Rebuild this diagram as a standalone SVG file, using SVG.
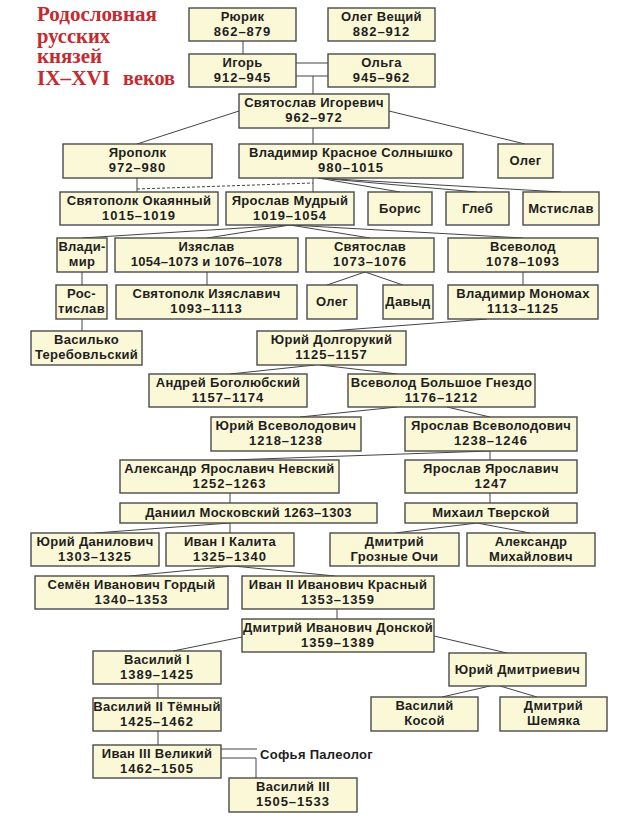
<svg xmlns="http://www.w3.org/2000/svg" width="640" height="819" viewBox="0 0 640 819">
<style>
.b{fill:#fbf8d8;stroke:#4a4a4a;stroke-width:1.4}
.t{font-family:"Liberation Sans",Arial,sans-serif;font-weight:bold;font-size:13px;letter-spacing:0.3px;fill:#1e1e1e;text-anchor:middle}
.d{letter-spacing:1px}
.c line{stroke:#444;stroke-width:1}
.ttl{font-family:"Liberation Serif","DejaVu Serif",serif;font-weight:bold;font-size:20px;fill:#c42a2f}
</style>
<rect width="640" height="819" fill="#fff"/>
<g id="title">
<text class="ttl" x="37" y="21" textLength="120" lengthAdjust="spacingAndGlyphs">Родословная</text>
<text class="ttl" x="37" y="43" textLength="73" lengthAdjust="spacingAndGlyphs">русских</text>
<text class="ttl" x="37" y="63" textLength="65" lengthAdjust="spacingAndGlyphs">князей</text>
<text class="ttl" x="37" y="85" textLength="73" lengthAdjust="spacingAndGlyphs">IX–XVI</text>
<text class="ttl" x="123" y="85" textLength="52" lengthAdjust="spacingAndGlyphs">веков</text>
</g>
<g id="connectors" class="c">
<line x1="243" y1="41" x2="243" y2="54"/>
<line x1="296" y1="63" x2="328" y2="63"/>
<line x1="296" y1="76" x2="328" y2="76"/>
<line x1="313" y1="76" x2="313" y2="94"/>
<line x1="239" y1="111" x2="137" y2="144"/>
<line x1="389" y1="111" x2="525" y2="144"/>
<line x1="313" y1="128" x2="313" y2="144"/>
<line x1="137" y1="178" x2="137" y2="192"/>
<line x1="137" y1="189" x2="313" y2="183" stroke-dasharray="3,2"/>
<line x1="313" y1="178" x2="313" y2="192"/>
<line x1="318" y1="178" x2="400" y2="192"/>
<line x1="318" y1="178" x2="477" y2="192"/>
<line x1="318" y1="178" x2="561" y2="192"/>
<line x1="290" y1="225" x2="82" y2="238"/>
<line x1="290" y1="225" x2="207" y2="238"/>
<line x1="290" y1="225" x2="370" y2="238"/>
<line x1="290" y1="225" x2="523" y2="238"/>
<line x1="82" y1="272" x2="82" y2="285"/>
<line x1="207" y1="272" x2="207" y2="285"/>
<line x1="365" y1="272" x2="327" y2="285"/>
<line x1="365" y1="272" x2="403" y2="285"/>
<line x1="523" y1="272" x2="523" y2="285"/>
<line x1="82" y1="319" x2="82" y2="331"/>
<line x1="487" y1="319" x2="330" y2="331"/>
<line x1="315" y1="365" x2="230" y2="374"/>
<line x1="320" y1="365" x2="397" y2="374"/>
<line x1="397" y1="407" x2="300" y2="417"/>
<line x1="447" y1="407" x2="490" y2="417"/>
<line x1="490" y1="451" x2="230" y2="460"/>
<line x1="490" y1="451" x2="490" y2="460"/>
<line x1="230" y1="493" x2="230" y2="503"/>
<line x1="490" y1="493" x2="490" y2="503"/>
<line x1="230" y1="523" x2="95" y2="533"/>
<line x1="230" y1="523" x2="230" y2="533"/>
<line x1="477" y1="523" x2="395" y2="533"/>
<line x1="477" y1="523" x2="530" y2="533"/>
<line x1="233" y1="566" x2="130" y2="576"/>
<line x1="233" y1="566" x2="335" y2="576"/>
<line x1="337" y1="609" x2="337" y2="619"/>
<line x1="242" y1="637" x2="173" y2="651"/>
<line x1="434" y1="636" x2="507" y2="653"/>
<line x1="158" y1="684" x2="158" y2="698"/>
<line x1="490" y1="686" x2="442" y2="697"/>
<line x1="500" y1="686" x2="537" y2="697"/>
<line x1="158" y1="731" x2="158" y2="745"/>
<line x1="221" y1="749" x2="257" y2="749"/>
<line x1="221" y1="758" x2="256" y2="758"/>
<line x1="256" y1="758" x2="256" y2="778"/>
</g>
<g id="rurik"><rect class="b" x="189" y="8" width="107" height="33"/><text class="t" x="242.5" y="21">Рюрик</text><text class="t d" x="242.5" y="36">862–879</text></g>
<g id="oleg-veshchiy"><rect class="b" x="328" y="8" width="107" height="33"/><text class="t" x="381.5" y="21">Олег Вещий</text><text class="t d" x="381.5" y="36">882–912</text></g>
<g id="igor"><rect class="b" x="189" y="54" width="107" height="33"/><text class="t" x="242.5" y="67">Игорь</text><text class="t d" x="242.5" y="82">912–945</text></g>
<g id="olga"><rect class="b" x="328" y="54" width="107" height="33"/><text class="t" x="381.5" y="67">Ольга</text><text class="t d" x="381.5" y="82">945–962</text></g>
<g id="svyatoslav-igorevich"><rect class="b" x="239" y="94" width="150" height="34"/><text class="t" x="314" y="107">Святослав Игоревич</text><text class="t d" x="314" y="122">962–972</text></g>
<g id="yaropolk"><rect class="b" x="63" y="144" width="149" height="34"/><text class="t" x="137.5" y="157">Ярополк</text><text class="t d" x="137.5" y="172">972–980</text></g>
<g id="vladimir-ks"><rect class="b" x="239" y="144" width="224" height="34"/><text class="t" x="351" y="157">Владимир Красное Солнышко</text><text class="t d" x="351" y="172">980–1015</text></g>
<g id="oleg-1"><rect class="b" x="498" y="144" width="55" height="34"/><text class="t" x="525.5" y="165">Олег</text></g>
<g id="svyatopolk-okayanny"><rect class="b" x="60" y="192" width="158" height="33"/><text class="t" x="139" y="205">Святополк Окаянный</text><text class="t d" x="139" y="220">1015–1019</text></g>
<g id="yaroslav-mudry"><rect class="b" x="226" y="192" width="128" height="33"/><text class="t" x="290" y="205">Ярослав Мудрый</text><text class="t d" x="290" y="220">1019–1054</text></g>
<g id="boris"><rect class="b" x="368" y="192" width="64" height="33"/><text class="t" x="400" y="213">Борис</text></g>
<g id="gleb"><rect class="b" x="446" y="192" width="63" height="33"/><text class="t" x="477.5" y="213">Глеб</text></g>
<g id="mstislav"><rect class="b" x="523" y="192" width="76" height="33"/><text class="t" x="561" y="213">Мстислав</text></g>
<g id="vladimir-2"><rect class="b" x="57" y="238" width="50" height="34"/><text class="t" x="82" y="251">Влади-</text><text class="t" x="82" y="266">мир</text></g>
<g id="izyaslav"><rect class="b" x="115" y="238" width="183" height="34"/><text class="t" x="206.5" y="251">Изяслав</text><text class="t" x="206.5" y="266">1054–1073 и 1076–1078</text></g>
<g id="svyatoslav-2"><rect class="b" x="306" y="238" width="128" height="34"/><text class="t" x="370" y="251">Святослав</text><text class="t d" x="370" y="266">1073–1076</text></g>
<g id="vsevolod"><rect class="b" x="448" y="238" width="150" height="34"/><text class="t" x="523" y="251">Всеволод</text><text class="t d" x="523" y="266">1078–1093</text></g>
<g id="rostislav"><rect class="b" x="56" y="285" width="51" height="34"/><text class="t" x="81.5" y="298">Рос-</text><text class="t" x="81.5" y="313">тислав</text></g>
<g id="svyatopolk-izyaslavich"><rect class="b" x="116" y="285" width="181" height="34"/><text class="t" x="206.5" y="298">Святополк Изяславич</text><text class="t d" x="206.5" y="313">1093–1113</text></g>
<g id="oleg-2"><rect class="b" x="307" y="285" width="50" height="34"/><text class="t" x="332" y="306">Олег</text></g>
<g id="davyd"><rect class="b" x="383" y="285" width="50" height="34"/><text class="t" x="408" y="306">Давыд</text></g>
<g id="monomakh"><rect class="b" x="448" y="285" width="150" height="34"/><text class="t" x="523" y="298">Владимир Мономах</text><text class="t d" x="523" y="313">1113–1125</text></g>
<g id="vasilko"><rect class="b" x="31" y="331" width="111" height="34"/><text class="t" x="86.5" y="344">Василько</text><text class="t" x="86.5" y="359">Теребовльский</text></g>
<g id="yuri-dolgoruky"><rect class="b" x="257" y="331" width="149" height="34"/><text class="t" x="331.5" y="344">Юрий Долгорукий</text><text class="t d" x="331.5" y="359">1125–1157</text></g>
<g id="andrey"><rect class="b" x="149" y="374" width="158" height="33"/><text class="t" x="228" y="387">Андрей Боголюбский</text><text class="t d" x="228" y="402">1157–1174</text></g>
<g id="vsevolod-bg"><rect class="b" x="348" y="374" width="187" height="33"/><text class="t" x="441.5" y="387">Всеволод Большое Гнездо</text><text class="t d" x="441.5" y="402">1176–1212</text></g>
<g id="yuri-vs"><rect class="b" x="211" y="417" width="150" height="34"/><text class="t" x="286" y="430">Юрий Всеволодович</text><text class="t d" x="286" y="445">1218–1238</text></g>
<g id="yaroslav-vs"><rect class="b" x="405" y="417" width="172" height="34"/><text class="t" x="491" y="430">Ярослав Всеволодович</text><text class="t d" x="491" y="445">1238–1246</text></g>
<g id="alexander-nevsky"><rect class="b" x="120" y="460" width="219" height="33"/><text class="t" x="229.5" y="473">Александр Ярославич Невский</text><text class="t d" x="229.5" y="488">1252–1263</text></g>
<g id="yaroslav-ya"><rect class="b" x="405" y="460" width="172" height="33"/><text class="t" x="491" y="473">Ярослав Ярославич</text><text class="t d" x="491" y="488">1247</text></g>
<g id="daniil"><rect class="b" x="120" y="503" width="257" height="20"/><text class="t" x="248.5" y="517">Даниил Московский 1263–1303</text></g>
<g id="mikhail"><rect class="b" x="405" y="503" width="172" height="20"/><text class="t" x="491" y="517">Михаил Тверской</text></g>
<g id="yuri-danilovich"><rect class="b" x="31" y="533" width="128" height="33"/><text class="t" x="95" y="546">Юрий Данилович</text><text class="t d" x="95" y="561">1303–1325</text></g>
<g id="ivan-1"><rect class="b" x="166" y="533" width="128" height="33"/><text class="t" x="230" y="546">Иван I Калита</text><text class="t d" x="230" y="561">1325–1340</text></g>
<g id="dmitry-go"><rect class="b" x="330" y="533" width="129" height="33"/><text class="t" x="394.5" y="546">Дмитрий</text><text class="t" x="394.5" y="561">Грозные Очи</text></g>
<g id="alexander-m"><rect class="b" x="467" y="533" width="128" height="33"/><text class="t" x="531" y="546">Александр</text><text class="t" x="531" y="561">Михайлович</text></g>
<g id="semyon"><rect class="b" x="35" y="576" width="193" height="33"/><text class="t" x="131.5" y="589">Семён Иванович Гордый</text><text class="t d" x="131.5" y="604">1340–1353</text></g>
<g id="ivan-2"><rect class="b" x="242" y="576" width="192" height="33"/><text class="t" x="338" y="589">Иван II Иванович Красный</text><text class="t d" x="338" y="604">1353–1359</text></g>
<g id="dmitry-donskoy"><rect class="b" x="242" y="619" width="192" height="33"/><text class="t" x="338" y="632">Дмитрий Иванович Донской</text><text class="t d" x="338" y="647">1359–1389</text></g>
<g id="vasily-1"><rect class="b" x="93" y="651" width="128" height="33"/><text class="t" x="157" y="664">Василий I</text><text class="t d" x="157" y="679">1389–1425</text></g>
<g id="yuri-dmitrievich"><rect class="b" x="449" y="653" width="137" height="33"/><text class="t" x="517.5" y="674">Юрий Дмитриевич</text></g>
<g id="vasily-2"><rect class="b" x="93" y="698" width="128" height="33"/><text class="t" x="157" y="711">Василий II Тёмный</text><text class="t d" x="157" y="726">1425–1462</text></g>
<g id="vasily-kosoy"><rect class="b" x="371" y="697" width="107" height="34"/><text class="t" x="424.5" y="710">Василий</text><text class="t" x="424.5" y="725">Косой</text></g>
<g id="dmitry-shemyaka"><rect class="b" x="500" y="697" width="107" height="34"/><text class="t" x="553.5" y="710">Дмитрий</text><text class="t" x="553.5" y="725">Шемяка</text></g>
<g id="ivan-3"><rect class="b" x="93" y="745" width="128" height="33"/><text class="t" x="157" y="758">Иван III Великий</text><text class="t d" x="157" y="773">1462–1505</text></g>
<g id="sofia"><text class="t" x="260" y="759" style="text-anchor:start">Софья Палеолог</text></g>
<g id="vasily-3"><rect class="b" x="229" y="778" width="128" height="34"/><text class="t" x="293" y="791">Василий III</text><text class="t d" x="293" y="806">1505–1533</text></g>
</svg>
